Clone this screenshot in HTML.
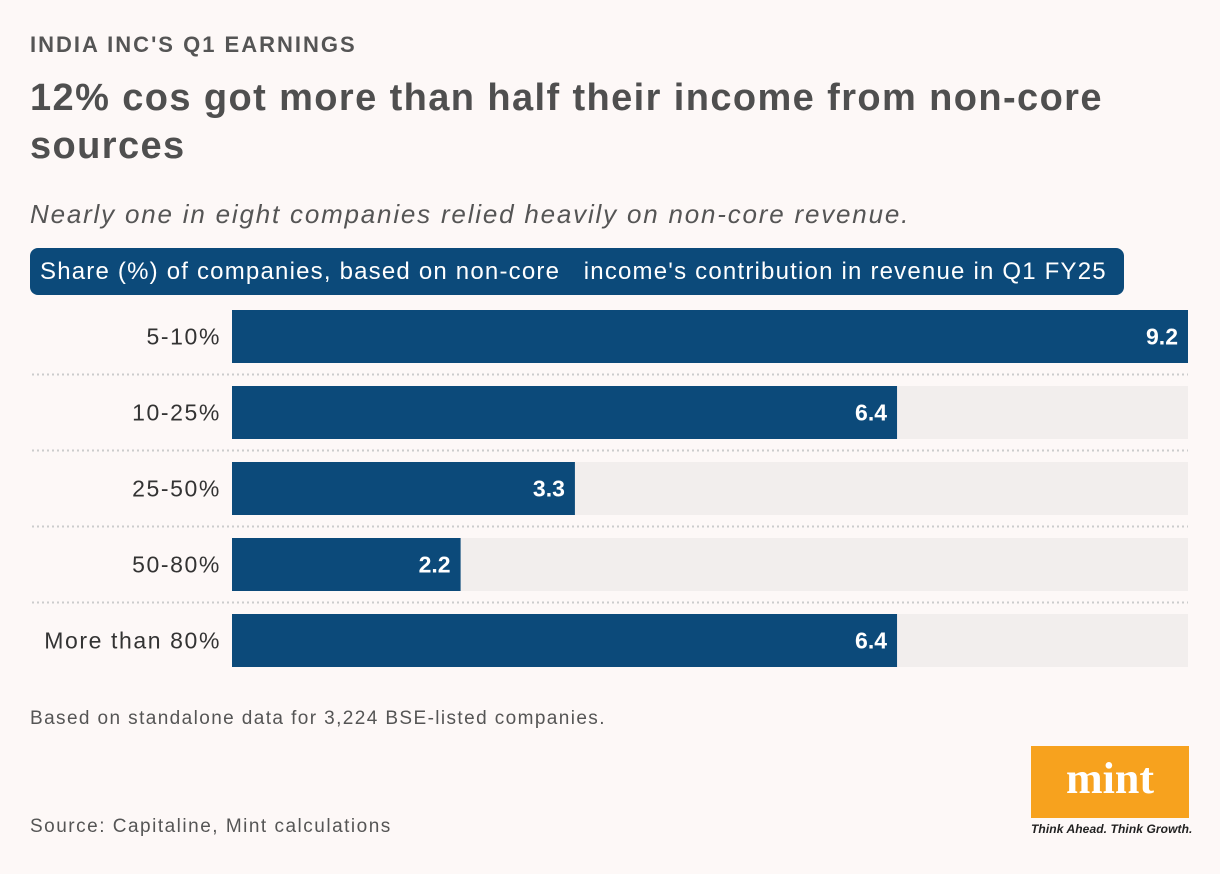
<!DOCTYPE html>
<html><head><meta charset="utf-8"><style>
body{margin:0;width:1220px;height:874px;background:#fdf8f7;font-family:"Liberation Sans",sans-serif;position:relative;overflow:hidden;color:#555}
.abs{position:absolute;white-space:nowrap}
</style></head><body>
<div class="abs" style="left:30px;top:32px;font-size:22px;font-weight:bold;color:#555;letter-spacing:2px">INDIA INC'S Q1 EARNINGS</div>
<div class="abs" style="left:30px;top:74px;font-size:38px;font-weight:bold;color:#4f4f4f;line-height:48px;white-space:normal;width:1170px;letter-spacing:1.4px">12% cos got more than half their income from non-core sources</div>
<div class="abs" style="left:30px;top:199px;font-size:26px;font-style:italic;color:#555;letter-spacing:1.8px">Nearly one in eight companies relied heavily on non-core revenue.</div>
<div class="abs" style="left:30px;top:248px;width:1094px;height:47px;background:#0c4a7a;border-radius:8px;color:#fff;font-size:24px;line-height:47px;padding-left:10px;box-sizing:border-box;letter-spacing:1.2px">Share (%) of companies, based on non-core &nbsp; income's contribution in revenue in Q1 FY25</div>
<svg id="chart" class="abs" style="left:0;top:0" width="1220" height="874"></svg>
<div class="abs" style="left:30px;top:708px;font-size:19px;color:#555;letter-spacing:1.4px">Based on standalone data for 3,224 BSE-listed companies.</div>
<div class="abs" style="left:30px;top:816px;font-size:19px;color:#555;letter-spacing:1.5px">Source: Capitaline, Mint calculations</div>
<div class="abs" style="left:1031px;top:746px;width:158px;height:72px;background:#f7a21e;color:#fff;font-family:'Liberation Serif',serif;font-weight:bold;font-size:44px;text-align:center;line-height:66px">mint</div>
<div class="abs" style="left:1031px;top:822px;font-size:12px;font-style:italic;font-weight:bold;color:#222;letter-spacing:0.1px">Think Ahead. Think Growth.</div>
<script>
const categories=["5-10%","10-25%","25-50%","50-80%","More than 80%"];
const values=[9.2,6.4,3.3,2.2,6.4];
const maxValue=9.2;
const svg=document.getElementById('chart');
const NS="http://www.w3.org/2000/svg";
const x0=232,plotW=956,y0=310,pitch=76,bh=53;
const xs=v=>plotW*v/maxValue;
const ys=i=>y0+i*pitch;
function mk(t,a){const e=document.createElementNS(NS,t);for(const k in a)e.setAttribute(k,a[k]);svg.appendChild(e);return e;}
categories.forEach((c,i)=>{
  const y=ys(i);
  const tr=mk('rect',{x:x0,y:y,width:plotW,height:bh,fill:'#f2eeed'});
  
  
  const b=mk('rect',{x:x0,y:y,width:xs(values[i]),height:bh,fill:'#0c4a7a'});
  
  
  const l=mk('text',{x:221,y:y+bh/2+8,'text-anchor':'end','font-size':23,fill:'#333','letter-spacing':'1.6px','font-family':'Liberation Sans, sans-serif'});
  l.textContent=c;
  
  
  const v=mk('text',{x:x0+xs(values[i])-10,y:y+bh/2+8,'text-anchor':'end','font-size':23,'font-weight':'bold',fill:'#fff','font-family':'Liberation Sans, sans-serif'});
  v.textContent=values[i].toFixed(1);
  
  
  if(i<categories.length-1){
    const s=mk('line',{x1:32,x2:1188,y1:y+bh+11.5,y2:y+bh+11.5,stroke:'#ccc','stroke-width':2,'stroke-dasharray':'2 3'});
    
    
  }
});
</script>
</body></html>
